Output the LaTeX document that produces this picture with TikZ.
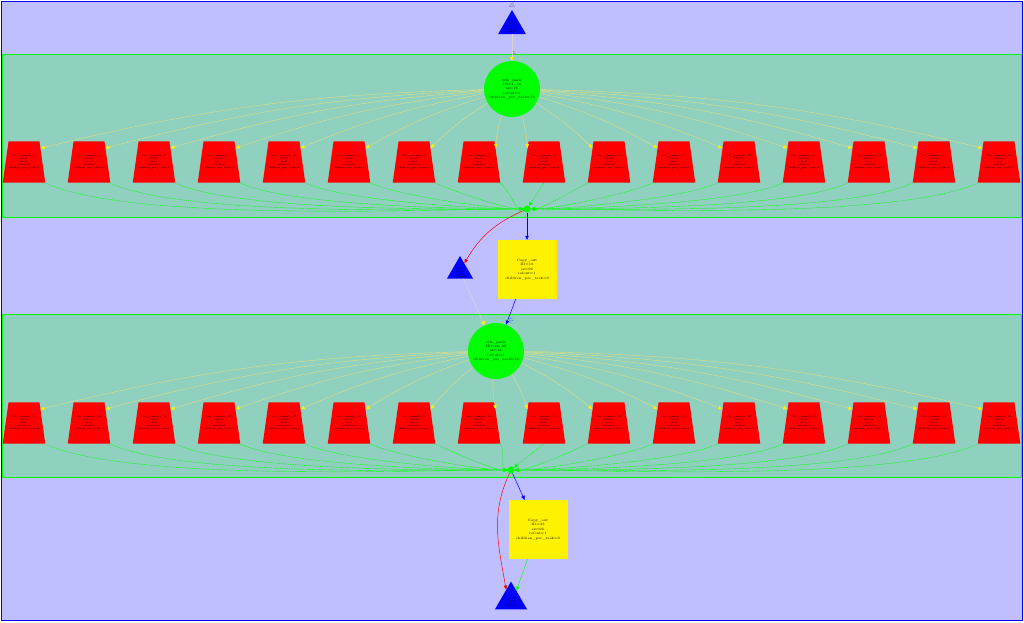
\documentclass[tikz,border=0pt]{standalone}
\usepackage{tikz}
\usetikzlibrary{shapes.geometric,arrows.meta}

\definecolor{lavender}{RGB}{191,191,255}
\definecolor{clusterfill}{RGB}{143,208,191}
\definecolor{paleyellow}{RGB}{224,224,130}
\definecolor{palegray}{RGB}{214,214,200}

\begin{document}
\begin{tikzpicture}[x=1pt,y=-1pt,
    >={Triangle[length=4pt,width=3.5pt]},
    cluster/.style={draw=green,fill=clusterfill,line width=0.8pt},
    poolnode/.style={circle,fill=green,minimum size=56pt,inner sep=0pt,align=center,font=\fontsize{3.4}{4.4}\selectfont},
    tasknode/.style={trapezium,trapezium angle=82,trapezium stretches body,fill=red,minimum width=42pt,inner xsep=0pt,inner ysep=13.5pt,align=center,font=\fontsize{2.4}{3}\selectfont},
    copynode/.style={rectangle,fill=yellow,minimum size=59pt,inner sep=0pt,align=center,font=\fontsize{3.4}{4.4}\selectfont},
    datanode/.style={regular polygon,regular polygon sides=3,fill=blue,inner sep=0pt},
    datatext/.style={font=\fontsize{2.2}{2.8}\selectfont,align=center,inner sep=0pt},
    joinnode/.style={circle,fill=green,minimum size=7pt,inner sep=0pt},
    edgelbl/.style={font=\fontsize{1.8}{2.2}\selectfont,align=left,inner sep=0.5pt},
    feed/.style={draw=paleyellow,line width=0.4pt,-{Triangle[length=4pt,width=3.5pt,color=yellow]}},
    gather/.style={draw=green,line width=0.4pt,dash pattern=on 1.5pt off 0.8pt,->},
    flowin/.style={draw=palegray,line width=0.5pt,-{Triangle[length=4pt,width=4pt,color=yellow]}}
  ]
  \useasboundingbox (0,0) rectangle (1024,622);

  % Outer frame and the two clusters
  \draw[blue,fill=lavender,line width=0.8pt] (1,1) rectangle (1022,620);
  \draw[cluster] (2,54) rectangle (1021,217);
  \draw[cluster] (2,314) rectangle (1021,477);

  % Data in, first pool
  \node[datanode,minimum size=32pt,label={[datatext,yshift=-2pt]center:{read\_A\\ID=0\\sz=1\\refcnt=1}},
        label={[datatext,yshift=1pt]north:{in\_A\\(0)\\A(0)}}] (din) at (512,26) {};
  \node[poolnode] (pa) at (512,89) {tile\_pack\\ID=1..16\\sz=16\\refcnt=1\\children\_per\_task=16};
  \node[joinnode] (ja) at (527,209) {};

  % Second pool
  \node[datanode,minimum size=30pt,label={[datatext,yshift=-2pt]center:{tmp\_A\\ID=17\\sz=1\\refcnt=1}}] (dmid) at (460,271) {};
  \node[copynode] (ca) at (527,269.5) {Copy\_out\\ID=16\\sz=96\\refcnt=1\\children\_per\_task=0};
  \node[poolnode] (pb) at (496,351) {tile\_pack\\ID=18..33\\sz=16\\refcnt=1\\children\_per\_task=16};
  \node[joinnode] (jb) at (511,470) {};

  % Data out
  \node[copynode] (cb) at (538,529.5) {Copy\_out\\ID=33\\sz=96\\refcnt=1\\children\_per\_task=0};
  \node[datanode,minimum size=37pt,label={[datatext,yshift=-2pt]center:{write\_B\\ID=34\\sz=1\\refcnt=2}}] (dout) at (511,600) {};

  % Task rows
  \foreach \i in {1,...,16} {
    \pgfmathsetmacro{\tx}{24+65*(\i-1)}
    \pgfmathtruncatemacro{\ida}{\i}
    \pgfmathtruncatemacro{\idb}{\i+17}
    \node[tasknode] (ta\i) at (\tx,162) {tile\_compute\_\ida\\ID=\ida\\sz=1\\refcnt=0\\children\_per\_task=0};
    \node[tasknode] (tb\i) at (\tx,423) {tile\_compute\_\idb\\ID=\idb\\sz=1\\refcnt=0\\children\_per\_task=0};
  }

  % Pool to tasks, tasks to join
  \foreach \i in {1,...,8} {
    \draw[feed] (pa) to[bend right=6] (ta\i.40);
    \draw[feed] (pb) to[bend right=6] (tb\i.40);
    \draw[gather] (ta\i.south east) to[out=-25,in=180,looseness=0.5] (ja);
    \draw[gather] (tb\i.south east) to[out=-25,in=180,looseness=0.5] (jb);
  }
  \foreach \i in {9,...,16} {
    \draw[feed] (pa) to[bend left=6] (ta\i.140);
    \draw[feed] (pb) to[bend left=6] (tb\i.140);
  }
  \draw[gather] (ta9.south) -- (ja);
  \draw[gather] (tb9.south) -- (jb);
  \foreach \i in {10,...,16} {
    \draw[gather] (ta\i.south west) to[out=-155,in=0,looseness=0.5] (ja);
    \draw[gather] (tb\i.south west) to[out=-155,in=0,looseness=0.5] (jb);
  }

  % Links between the stages
  \draw[flowin] (din) -- node[edgelbl,pos=0.82,above right] {A\\(0)} (pa);
  \draw[->,red,line width=0.5pt] (ja) to[bend right=18] (dmid);
  \draw[->,blue,line width=0.5pt] (ja) -- (ca);
  \draw[flowin] (dmid) -- (pb);
  \draw[->,blue,line width=0.5pt] (ca) -- node[edgelbl,pos=0.85,right=1pt] {tile\\flow\\B} (pb);
  \draw[->,red,line width=0.5pt] (jb) to[out=-115,in=100] (dout.115);
  \draw[->,blue,line width=0.5pt] (jb) -- (cb);
  \draw[->,green,line width=0.4pt] (cb) -- (dout.60);
\end{tikzpicture}
\end{document}
